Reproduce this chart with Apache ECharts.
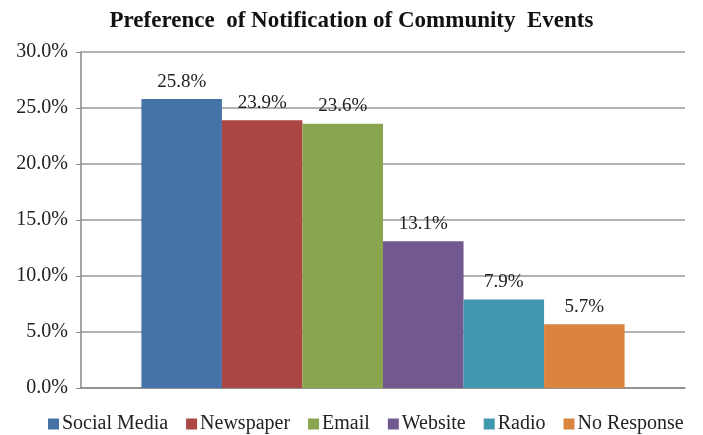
<!DOCTYPE html>
<html><head><meta charset="utf-8">
<script src="https://cdn.jsdelivr.net/npm/echarts@6/dist/echarts.min.js"></script>
<style>html,body{margin:0;padding:0;background:#fff}#c{width:703px;height:435px}</style>
</head><body><div id="c"></div>
<script>
const seriesNames = ['Social Media','Newspaper','Email','Website','Radio','No Response'];
const seriesValues = [25.8, 23.9, 23.6, 13.1, 7.9, 5.7];
const seriesColors = ['#4572A7','#AA4643','#89A54E','#71588F','#4198AF','#DB843D'];
const yTicks = [0,5,10,15,20,25,30];
const serif = '"Liberation Serif","Times New Roman",serif';

const chart = echarts.init(document.getElementById('c'));
chart.setOption({
  animation:false,
  title:{text:'Preference  of Notification of Community  Events',left:'center',top:5,
    textStyle:{fontFamily:serif,fontWeight:'bold',fontSize:23,color:'#111'}},
  grid:{left:81,right:18,top:52,bottom:47},
  legend:{top:409,left:43,itemWidth:11,itemHeight:11,itemGap:18,icon:'rect',
    textStyle:{fontFamily:serif,fontSize:20,color:'#222',padding:[0,0,0,-2]},
    data:seriesNames},
  xAxis:{type:'category',data:[''],axisLine:{lineStyle:{color:'#888',width:1.5}},axisTick:{show:false},axisLabel:{show:false}},
  yAxis:{type:'value',min:yTicks[0],max:yTicks[yTicks.length-1],interval:5,
    axisLine:{show:true,lineStyle:{color:'#888',width:1.5}},
    axisTick:{show:true,length:5,lineStyle:{color:'#888'}},
    splitLine:{lineStyle:{color:'#999',width:1.5}},
    axisLabel:{fontFamily:serif,fontSize:20,color:'#222',margin:13,formatter:v=>v.toFixed(1)+'%'}},
  series: seriesNames.map((n,i)=>({
    name:n,type:'bar',data:[seriesValues[i]],barGap:'0%',barCategoryGap:'20%',
    itemStyle:{color:seriesColors[i]},
    label:{show:true,position:'top',distance:8,fontFamily:serif,fontSize:19,color:'#222',
      formatter:p=>p.value.toFixed(1)+'%'}
  }))
});
</script></body></html>
